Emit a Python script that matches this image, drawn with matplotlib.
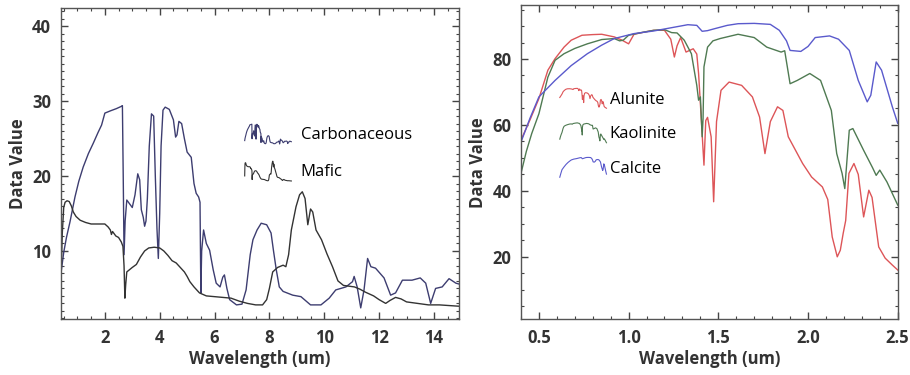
import numpy as np
import matplotlib
matplotlib.use("Agg")
import matplotlib.pyplot as plt
from matplotlib.lines import Line2D
from matplotlib.legend_handler import HandlerBase
from matplotlib.ticker import MultipleLocator

# ---- left panel: thermal-ish spectra ----
mafic_x = [0.4, 0.45, 0.5, 0.55, 0.62, 0.7, 0.78, 0.85, 0.95, 1.1, 1.3, 1.5, 1.75, 2.0, 2.12,
           2.2, 2.24, 2.28, 2.4, 2.5, 2.6, 2.66, 2.7, 2.73, 2.76, 2.8, 2.9, 3.0, 3.15, 3.3,
           3.45, 3.6, 3.8, 4.0, 4.15, 4.3, 4.45, 4.6, 4.75, 4.9, 5.0, 5.1, 5.25, 5.45, 5.7,
           6.0, 6.3, 6.6, 6.9, 7.2, 7.5, 7.75, 7.9, 8.0, 8.12, 8.3, 8.5, 8.6, 8.7, 8.8,
           8.97, 9.1, 9.2, 9.3, 9.4, 9.5, 9.58, 9.7, 9.9, 10.1, 10.3, 10.5, 10.7, 10.9, 11.1,
           11.3, 11.5, 11.8, 12.0, 12.24, 12.4, 12.6, 12.8, 13.0, 13.4, 13.8, 14.2, 14.6, 15.0]
mafic_y = [6.5, 12.5, 15.8, 16.5, 16.7, 16.6, 16.0, 15.2, 14.6, 14.1, 13.8, 13.6, 13.6, 13.6, 13.2,
           12.8, 12.2, 12.6, 12.0, 11.8, 11.2, 10.6, 8.0, 3.7, 5.5, 7.2, 7.5, 7.8, 8.2, 9.2,
           10.0, 10.4, 10.5, 10.4, 10.0, 9.4, 8.7, 8.4, 7.8, 7.2, 6.6, 5.9, 5.2, 4.4, 4.0,
           3.9, 3.8, 3.7, 3.3, 3.0, 2.8, 2.8, 3.5, 5.0, 7.2, 7.8, 8.1, 7.9, 9.5, 12.8,
           15.9, 17.5, 17.9, 17.0, 13.5, 15.6, 15.2, 12.8, 11.5, 9.6, 7.9, 6.0, 5.4, 5.3, 5.2,
           4.9, 4.5, 4.0, 3.5, 3.0, 3.4, 3.8, 3.6, 3.2, 3.0, 2.8, 2.8, 2.7, 2.6]

carb_x = [0.4, 0.5, 0.6, 0.73, 0.91, 1.05, 1.21, 1.4, 1.58, 1.75, 1.88, 2.0, 2.2, 2.42, 2.6,
          2.64, 2.67, 2.7, 2.74, 2.8, 2.9, 3.0, 3.1, 3.2, 3.27, 3.33, 3.4, 3.45, 3.5, 3.55,
          3.62, 3.7, 3.78, 3.84, 3.9, 3.95, 4.0, 4.05, 4.12, 4.2, 4.35, 4.5, 4.58, 4.63, 4.7,
          4.8, 4.9, 5.0, 5.15, 5.25, 5.33, 5.42, 5.47, 5.5, 5.53, 5.6, 5.7, 5.82, 5.95, 6.06,
          6.2, 6.3, 6.36, 6.45, 6.55, 6.8, 7.0, 7.15, 7.3, 7.4, 7.55, 7.7, 7.9, 8.06, 8.15,
          8.25, 8.36, 8.5, 8.85, 9.15, 9.5, 9.88, 10.18, 10.42, 10.79, 11.03, 11.09, 11.2, 11.33, 11.45,
          11.58, 11.7, 11.87, 12.18, 12.42, 12.6, 12.85, 13.2, 13.5, 13.7, 13.88, 14.06, 14.3, 14.55, 14.8,
          15.0]
carb_y = [7.0, 9.8, 11.8, 13.9, 17.2, 19.3, 21.2, 23.0, 24.4, 25.8, 26.8, 28.4, 28.7, 29.0, 29.3,
          29.4, 20.0, 9.5, 14.0, 16.8, 16.3, 15.8, 17.5, 20.3, 19.5, 15.5, 14.5, 13.3, 14.0, 17.0,
          24.0, 28.3, 28.0, 20.0, 13.0, 9.0, 15.0, 24.0, 28.8, 29.2, 28.9, 27.5, 25.2, 25.5, 27.3,
          27.0, 25.0, 23.2, 22.5, 19.0, 17.7, 17.2, 16.5, 4.4, 10.0, 12.8, 11.0, 10.1, 7.5, 5.7,
          5.2, 6.5, 6.8, 5.0, 3.5, 2.8, 2.9, 4.8, 9.5, 11.5, 12.8, 13.7, 13.5, 12.4, 10.0,
          7.5, 5.2, 4.6, 4.1, 3.9, 2.8, 2.8, 3.7, 4.8, 5.2, 5.9, 6.6, 5.2, 2.4, 4.8,
          9.0, 7.9, 7.7, 6.4, 4.1, 4.4, 6.1, 6.1, 6.4, 5.7, 3.0, 5.0, 5.2, 6.3, 5.7,
          5.5]

# ---- right panel: VNIR/SWIR mineral spectra ----
alu_x = [0.4, 0.45, 0.5, 0.55, 0.59, 0.64, 0.68, 0.74, 0.8, 0.85, 0.92, 0.96, 0.98, 1.0, 1.03,
         1.1, 1.14, 1.2, 1.235, 1.255, 1.27, 1.29, 1.32, 1.36, 1.38, 1.39, 1.40, 1.42, 1.43, 1.44,
         1.46, 1.474, 1.49, 1.515, 1.56, 1.63, 1.69, 1.73, 1.76, 1.79, 1.83, 1.86, 1.89, 1.97, 2.02,
         2.08, 2.11, 2.135, 2.163, 2.18, 2.196, 2.21, 2.228, 2.256, 2.28, 2.31, 2.339, 2.357, 2.394, 2.43,
         2.47, 2.5]
alu_y = [55.4, 61.5, 68.0, 76.6, 80.1, 83.6, 85.7, 87.2, 87.4, 87.5, 86.7, 85.8, 85.2, 84.6, 87.5,
         88.3, 88.7, 88.7, 86.0, 80.6, 84.0, 86.5, 82.1, 83.1, 81.5, 75.6, 66.5, 47.8, 61.3, 62.3,
         56.4, 36.7, 61.0, 70.5, 73.0, 72.0, 68.5, 62.4, 51.3, 61.0, 65.5, 64.4, 56.4, 48.3, 44.2,
         41.2, 37.4, 26.0, 20.0, 22.0, 27.1, 31.0, 45.3, 48.3, 45.0, 32.1, 40.2, 38.0, 23.0, 19.6,
         17.5, 16.0]

kao_x = [0.4, 0.43, 0.46, 0.5, 0.55, 0.59, 0.64, 0.7, 0.77, 0.85, 0.92, 0.95, 0.97, 1.0, 1.07,
         1.14, 1.2, 1.24, 1.27, 1.31, 1.35, 1.38, 1.39, 1.40, 1.41, 1.415, 1.42, 1.44, 1.47, 1.51,
         1.61, 1.7, 1.77, 1.85, 1.87, 1.9, 1.94, 2.01, 2.07, 2.13, 2.16, 2.19, 2.205, 2.23, 2.25,
         2.31, 2.36, 2.38, 2.4, 2.44, 2.5]
kao_y = [45.3, 52.0, 57.4, 63.4, 74.5, 79.6, 81.6, 83.2, 84.6, 85.9, 86.2, 85.5, 85.7, 87.2, 88.0,
         88.7, 88.9, 88.0, 87.9, 85.7, 81.6, 72.0, 67.5, 68.5, 56.4, 62.0, 77.6, 83.6, 85.5, 86.2,
         87.5, 86.5, 83.6, 82.1, 82.5, 72.5, 73.5, 75.6, 73.5, 64.4, 51.3, 45.3, 40.7, 58.4, 58.9,
         52.3, 47.0, 44.7, 46.3, 42.7, 35.7]

cal_x = [0.4, 0.45, 0.5, 0.59, 0.68, 0.77, 0.85, 0.92, 1.03, 1.14, 1.24, 1.33, 1.38, 1.41, 1.44,
         1.48, 1.55, 1.61, 1.7, 1.79, 1.84, 1.88, 1.9, 1.96, 2.0, 2.04, 2.12, 2.17, 2.23, 2.28,
         2.33, 2.35, 2.38, 2.41, 2.47, 2.5]
cal_y = [54.8, 62.0, 68.5, 73.5, 78.0, 81.6, 84.2, 86.2, 87.7, 88.5, 89.5, 90.4, 90.2, 88.4, 88.6,
         89.2, 90.2, 90.7, 90.8, 90.5, 88.7, 85.5, 82.6, 82.3, 83.8, 86.5, 87.0, 86.0, 82.6, 73.5,
         67.0, 69.0, 79.1, 76.6, 65.5, 60.5]

FONT = "Open Sans"
TXT = "#333333"


class MiniSpectrum(HandlerBase):
    # legend icon = the spectrum itself, squashed into the handle box
    def create_artists(self, legend, orig_handle, xdescent, ydescent,
                       width, height, fontsize, trans):
        x, y = (np.asarray(v, dtype=float) for v in orig_handle.get_data())
        sx = (x - x.min()) / np.ptp(x) * width - xdescent
        sy = (y - y.min()) / np.ptp(y) * height * 1.7 - ydescent - height * 0.4
        ln = Line2D(sx, sy, color=orig_handle.get_color(), lw=0.8)
        ln.set_transform(trans)
        return [ln]


def style_axes(ax):
    ax.tick_params(which="both", direction="in", top=True, right=True,
                   colors="#444444", labelcolor=TXT, pad=7)
    ax.tick_params(which="major", length=5, width=1)
    ax.tick_params(which="minor", length=2.5, width=0.8)
    for lab in ax.get_xticklabels() + ax.get_yticklabels():
        lab.set_fontfamily(FONT)
        lab.set_fontweight("bold")
        lab.set_fontsize(12)
    for s in ax.spines.values():
        s.set_color("#555555")
        s.set_linewidth(1.0)
    ax.set_xlabel("Wavelength (um)", fontfamily=FONT, fontweight="bold",
                  fontsize=12, color=TXT, labelpad=2)
    ax.set_ylabel("Data Value", fontfamily=FONT, fontweight="bold",
                  fontsize=12, color=TXT, labelpad=4)


fig = plt.figure(figsize=(9.1, 3.75), dpi=100)
ax1 = fig.add_axes([0.067, 0.149, 0.437, 0.829])
ax2 = fig.add_axes([0.5725, 0.149, 0.414, 0.837])

h_carb, = ax1.plot(carb_x, carb_y, color="#3d3d70", lw=1.0)
h_maf, = ax1.plot(mafic_x, mafic_y, color="#333333", lw=1.0)
ax1.set_xlim(0.4, 14.9)
ax1.set_ylim(0.9, 42.4)
ax1.xaxis.set_major_locator(MultipleLocator(2))
ax1.xaxis.set_minor_locator(MultipleLocator(0.5))
ax1.yaxis.set_major_locator(MultipleLocator(10))
ax1.yaxis.set_minor_locator(MultipleLocator(1))
style_axes(ax1)
ax1.legend([h_carb, h_maf], ["Carbonaceous", "Mafic"],
           handler_map={Line2D: MiniSpectrum()},
           loc="upper left", bbox_to_anchor=(0.462, 0.617), frameon=False,
           borderpad=0, borderaxespad=0, handlelength=2.8, handletextpad=0.55,
           labelspacing=1.26, prop={"family": FONT, "size": 12})

h_alu, = ax2.plot(alu_x, alu_y, color="#dd5558", lw=1.0)
h_kao, = ax2.plot(kao_x, kao_y, color="#4f7a52", lw=1.0)
h_cal, = ax2.plot(cal_x, cal_y, color="#5a5acc", lw=1.0)
ax2.set_xlim(0.4, 2.5)
ax2.set_ylim(1.1, 96.3)
ax2.xaxis.set_major_locator(MultipleLocator(0.5))
ax2.xaxis.set_minor_locator(MultipleLocator(0.1))
ax2.yaxis.set_major_locator(MultipleLocator(20))
ax2.yaxis.set_minor_locator(MultipleLocator(5))
style_axes(ax2)
ax2.legend([h_alu, h_kao, h_cal], ["Alunite", "Kaolinite", "Calcite"],
           handler_map={Line2D: MiniSpectrum()},
           loc="upper left", bbox_to_anchor=(0.103, 0.725), frameon=False,
           borderpad=0, borderaxespad=0, handlelength=2.8, handletextpad=0.2,
           labelspacing=1.11, prop={"family": FONT, "size": 12})

fig.savefig("out.png", dpi=100)
